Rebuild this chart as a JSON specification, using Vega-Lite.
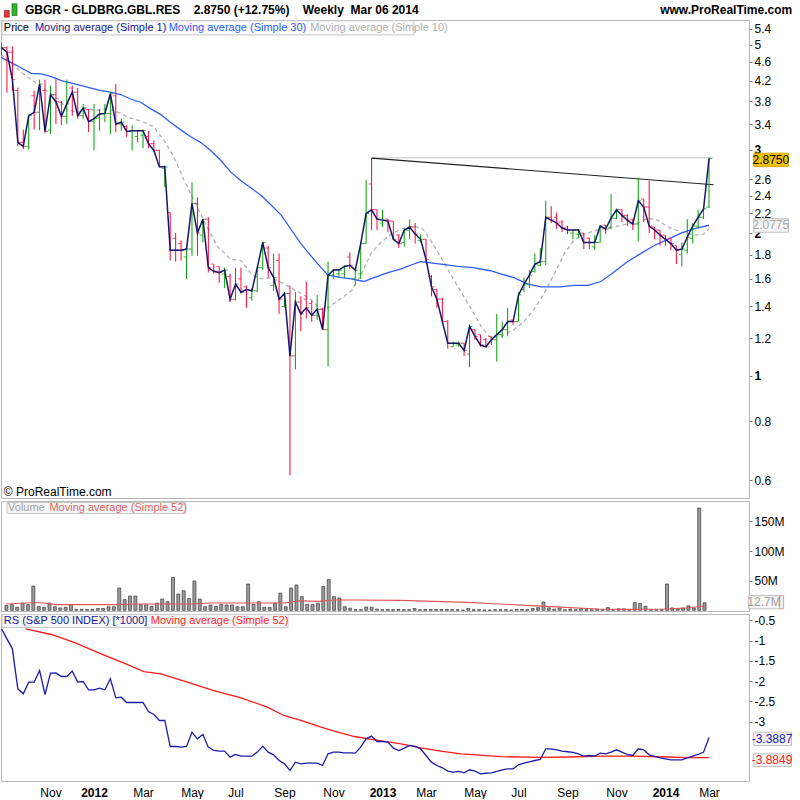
{
"$schema":"https://vega.github.io/schema/vega-lite/v6.json",
"background":"white",
"padding":{"left":0,"top":2,"right":0,"bottom":0},
"bounds":"flush",
"spacing":3,
"config":{"font":"Liberation Sans","view":{"stroke":"#b8b8b8"},"locale":{"number":{"decimal":".","thousands":",","grouping":[3],"currency":["$",""],"minus":"-"}},"axis":{"labelFont":"Liberation Sans","labelFontSize":12,"labelColor":"#000","domain":false,"grid":false,"tickColor":"#777","labelFlush":false,"labelOverlap":false}},
"resolve":{"scale":{"x":"independent","y":"independent"}},
"datasets":{
"bars":[
{"d":"2011-09-05","o":4.9,"h":5.05,"l":4.75,"c":4.93,"v":8,"rs":-0.713},
{"d":"2011-09-12","o":4.93,"h":4.96,"l":3.96,"c":4.82,"v":9.5,"rs":-0.959},
{"d":"2011-09-19","o":4.82,"h":4.96,"l":4.0,"c":4.22,"v":5,"rs":-1.205},
{"d":"2011-09-26","o":4.0,"h":4.06,"l":3.05,"c":3.11,"v":12,"rs":-2.19},
{"d":"2011-10-03","o":3.11,"h":3.31,"l":3.01,"c":3.05,"v":9.5,"rs":-2.314},
{"d":"2011-10-10","o":3.05,"h":3.56,"l":3.0,"c":3.54,"v":41,"rs":-2.026},
{"d":"2011-10-17","o":3.9,"h":4.0,"l":3.31,"c":3.6,"v":6.5,"rs":-2.026},
{"d":"2011-10-24","o":3.6,"h":4.22,"l":3.3,"c":4.13,"v":5,"rs":-1.739},
{"d":"2011-10-31","o":4.0,"h":4.22,"l":3.25,"c":3.28,"v":12,"rs":-2.33},
{"d":"2011-11-07","o":3.3,"h":4.1,"l":3.24,"c":3.92,"v":6,"rs":-1.805},
{"d":"2011-11-14","o":3.92,"h":4.23,"l":3.4,"c":3.79,"v":4,"rs":-1.797},
{"d":"2011-11-21","o":3.78,"h":3.8,"l":3.38,"c":3.53,"v":5,"rs":-1.887},
{"d":"2011-11-28","o":3.53,"h":4.22,"l":3.4,"c":3.75,"v":9.5,"rs":-1.887},
{"d":"2011-12-05","o":4.05,"h":4.1,"l":3.54,"c":3.97,"v":1.5,"rs":-1.755},
{"d":"2011-12-12","o":3.97,"h":4.05,"l":3.49,"c":3.54,"v":1.5,"rs":-2.026},
{"d":"2011-12-19","o":3.54,"h":3.75,"l":3.49,"c":3.67,"v":1.5,"rs":-2.01},
{"d":"2011-12-26","o":3.65,"h":3.66,"l":3.27,"c":3.44,"v":1.5,"rs":-2.215},
{"d":"2012-01-02","o":3.44,"h":3.75,"l":2.99,"c":3.49,"v":3,"rs":-2.215},
{"d":"2012-01-09","o":3.5,"h":3.66,"l":3.29,"c":3.57,"v":3,"rs":-2.174},
{"d":"2012-01-16","o":3.57,"h":3.75,"l":3.43,"c":3.58,"v":6,"rs":-2.215},
{"d":"2012-01-23","o":3.58,"h":3.97,"l":3.24,"c":3.94,"v":6,"rs":-1.944},
{"d":"2012-01-30","o":3.9,"h":4.13,"l":3.27,"c":3.4,"v":37.6,"rs":-2.412},
{"d":"2012-02-06","o":3.4,"h":3.49,"l":3.29,"c":3.43,"v":18,"rs":-2.396},
{"d":"2012-02-13","o":3.36,"h":3.38,"l":3.19,"c":3.28,"v":24,"rs":-2.527},
{"d":"2012-02-20","o":3.28,"h":3.38,"l":2.99,"c":3.29,"v":24,"rs":-2.527},
{"d":"2012-02-27","o":3.2,"h":3.29,"l":3.11,"c":3.29,"v":9.5,"rs":-2.527},
{"d":"2012-03-05","o":3.22,"h":3.31,"l":3.02,"c":3.29,"v":9.5,"rs":-2.527},
{"d":"2012-03-12","o":3.2,"h":3.29,"l":3.02,"c":3.09,"v":6.5,"rs":-2.749},
{"d":"2012-03-19","o":3.09,"h":3.14,"l":2.97,"c":2.99,"v":12,"rs":-2.823},
{"d":"2012-03-26","o":2.99,"h":3.0,"l":2.76,"c":2.76,"v":19,"rs":-2.97},
{"d":"2012-04-02","o":2.74,"h":2.78,"l":2.5,"c":2.76,"v":14.5,"rs":-2.97},
{"d":"2012-04-09","o":2.21,"h":2.21,"l":1.75,"c":1.84,"v":55.6,"rs":-3.611},
{"d":"2012-04-16","o":1.95,"h":2.0,"l":1.74,"c":1.84,"v":27.5,"rs":-3.611},
{"d":"2012-04-23","o":1.9,"h":1.93,"l":1.75,"c":1.84,"v":33,"rs":-3.627},
{"d":"2012-04-30","o":1.78,"h":1.85,"l":1.6,"c":1.85,"v":19.6,"rs":-3.611},
{"d":"2012-05-07","o":1.85,"h":2.56,"l":1.79,"c":2.31,"v":49.5,"rs":-3.258},
{"d":"2012-05-14","o":2.31,"h":2.38,"l":1.79,"c":2.0,"v":19,"rs":-3.422},
{"d":"2012-05-21","o":1.98,"h":2.14,"l":1.91,"c":2.14,"v":6,"rs":-3.315},
{"d":"2012-05-28","o":2.14,"h":2.16,"l":1.65,"c":1.69,"v":9,"rs":-3.627},
{"d":"2012-06-04","o":1.72,"h":1.72,"l":1.64,"c":1.66,"v":6.5,"rs":-3.709},
{"d":"2012-06-11","o":1.7,"h":1.7,"l":1.57,"c":1.65,"v":10,"rs":-3.726},
{"d":"2012-06-18","o":1.64,"h":1.69,"l":1.53,"c":1.67,"v":9,"rs":-3.726},
{"d":"2012-06-25","o":1.62,"h":1.64,"l":1.43,"c":1.45,"v":9,"rs":-3.874},
{"d":"2012-07-02","o":1.45,"h":1.69,"l":1.44,"c":1.56,"v":6,"rs":-3.808},
{"d":"2012-07-09","o":1.6,"h":1.69,"l":1.49,"c":1.5,"v":6,"rs":-3.849},
{"d":"2012-07-16","o":1.54,"h":1.55,"l":1.39,"c":1.52,"v":44.4,"rs":-3.849},
{"d":"2012-07-23","o":1.46,"h":1.53,"l":1.44,"c":1.51,"v":10,"rs":-3.849},
{"d":"2012-07-30","o":1.51,"h":1.7,"l":1.5,"c":1.69,"v":14.5,"rs":-3.75},
{"d":"2012-08-06","o":1.69,"h":1.92,"l":1.67,"c":1.91,"v":5,"rs":-3.603},
{"d":"2012-08-13","o":1.86,"h":1.88,"l":1.61,"c":1.69,"v":5,"rs":-3.75},
{"d":"2012-08-20","o":1.55,"h":1.81,"l":1.51,"c":1.61,"v":12,"rs":-3.816},
{"d":"2012-08-27","o":1.75,"h":1.81,"l":1.35,"c":1.45,"v":29,"rs":-3.956},
{"d":"2012-09-03","o":1.4,"h":1.5,"l":1.39,"c":1.49,"v":6,"rs":-4.038},
{"d":"2012-09-10","o":1.49,"h":1.55,"l":0.615,"c":1.1,"v":37.6,"rs":-4.202},
{"d":"2012-09-17","o":1.1,"h":1.5,"l":1.03,"c":1.43,"v":42.7,"rs":-3.997},
{"d":"2012-09-24","o":1.43,"h":1.47,"l":1.24,"c":1.35,"v":23,"rs":-4.038},
{"d":"2012-10-01","o":1.45,"h":1.58,"l":1.32,"c":1.39,"v":10,"rs":-4.021},
{"d":"2012-10-08","o":1.42,"h":1.44,"l":1.3,"c":1.34,"v":10,"rs":-4.021},
{"d":"2012-10-15","o":1.34,"h":1.48,"l":1.31,"c":1.38,"v":12,"rs":-4.021},
{"d":"2012-10-22","o":1.38,"h":1.39,"l":1.25,"c":1.25,"v":40,"rs":-4.079},
{"d":"2012-10-29","o":1.25,"h":1.74,"l":1.045,"c":1.63,"v":51.7,"rs":-3.791},
{"d":"2012-11-05","o":1.63,"h":1.68,"l":1.6,"c":1.67,"v":23,"rs":-3.75},
{"d":"2012-11-12","o":1.64,"h":1.68,"l":1.61,"c":1.67,"v":20.7,"rs":-3.75},
{"d":"2012-11-19","o":1.64,"h":1.71,"l":1.61,"c":1.7,"v":6,"rs":-3.767},
{"d":"2012-11-26","o":1.78,"h":1.82,"l":1.68,"c":1.71,"v":3.5,"rs":-3.767},
{"d":"2012-12-03","o":1.6,"h":1.68,"l":1.55,"c":1.67,"v":1,"rs":-3.775},
{"d":"2012-12-10","o":1.64,"h":1.91,"l":1.6,"c":1.9,"v":1,"rs":-3.627},
{"d":"2012-12-17","o":1.9,"h":2.59,"l":1.9,"c":2.2,"v":5.5,"rs":-3.422},
{"d":"2012-12-24","o":2.54,"h":2.88,"l":2.03,"c":2.24,"v":5,"rs":-3.356},
{"d":"2012-12-31","o":2.24,"h":2.24,"l":2.03,"c":2.14,"v":2,"rs":-3.488},
{"d":"2013-01-07","o":2.1,"h":2.24,"l":2.06,"c":2.13,"v":1,"rs":-3.488},
{"d":"2013-01-14","o":2.14,"h":2.14,"l":2.01,"c":2.12,"v":1.5,"rs":-3.504},
{"d":"2013-01-21","o":2.12,"h":2.12,"l":1.93,"c":1.94,"v":1,"rs":-3.652},
{"d":"2013-01-28","o":1.98,"h":1.99,"l":1.86,"c":1.9,"v":1.5,"rs":-3.709},
{"d":"2013-02-04","o":1.91,"h":2.03,"l":1.87,"c":2.03,"v":1,"rs":-3.652},
{"d":"2013-02-11","o":2.03,"h":2.14,"l":1.94,"c":2.06,"v":1,"rs":-3.586},
{"d":"2013-02-18","o":2.06,"h":2.1,"l":1.9,"c":1.99,"v":3,"rs":-3.611},
{"d":"2013-02-25","o":1.93,"h":1.99,"l":1.91,"c":1.94,"v":1,"rs":-3.668},
{"d":"2013-03-04","o":1.94,"h":1.94,"l":1.74,"c":1.76,"v":1.5,"rs":-3.833},
{"d":"2013-03-11","o":1.62,"h":1.63,"l":1.47,"c":1.54,"v":1.5,"rs":-3.997},
{"d":"2013-03-18","o":1.52,"h":1.52,"l":1.39,"c":1.45,"v":1.5,"rs":-4.079},
{"d":"2013-03-25","o":1.45,"h":1.46,"l":1.3,"c":1.3,"v":1.5,"rs":-4.136},
{"d":"2013-04-01","o":1.3,"h":1.31,"l":1.14,"c":1.17,"v":1.5,"rs":-4.218},
{"d":"2013-04-08","o":1.15,"h":1.18,"l":1.15,"c":1.17,"v":1,"rs":-4.243},
{"d":"2013-04-15","o":1.16,"h":1.18,"l":1.15,"c":1.17,"v":1,"rs":-4.226},
{"d":"2013-04-22","o":1.17,"h":1.17,"l":1.1,"c":1.13,"v":0.3,"rs":-4.259},
{"d":"2013-04-29","o":1.11,"h":1.28,"l":1.04,"c":1.27,"v":3,"rs":-4.185},
{"d":"2013-05-06","o":1.25,"h":1.25,"l":1.19,"c":1.21,"v":1,"rs":-4.218},
{"d":"2013-05-13","o":1.22,"h":1.22,"l":1.15,"c":1.16,"v":1,"rs":-4.284},
{"d":"2013-05-20","o":1.19,"h":1.2,"l":1.15,"c":1.15,"v":0.3,"rs":-4.27},
{"d":"2013-05-27","o":1.21,"h":1.21,"l":1.16,"c":1.19,"v":0.3,"rs":-4.259},
{"d":"2013-06-03","o":1.19,"h":1.35,"l":1.07,"c":1.22,"v":1,"rs":-4.226},
{"d":"2013-06-10","o":1.22,"h":1.3,"l":1.2,"c":1.25,"v":1,"rs":-4.185},
{"d":"2013-06-17","o":1.25,"h":1.39,"l":1.21,"c":1.3,"v":1,"rs":-4.161},
{"d":"2013-06-24","o":1.31,"h":1.31,"l":1.28,"c":1.3,"v":0.3,"rs":-4.161},
{"d":"2013-07-01","o":1.3,"h":1.5,"l":1.3,"c":1.48,"v":1.5,"rs":-4.062},
{"d":"2013-07-08","o":1.52,"h":1.61,"l":1.5,"c":1.56,"v":1.5,"rs":-4.021},
{"d":"2013-07-15","o":1.56,"h":1.67,"l":1.53,"c":1.63,"v":1,"rs":-3.99},
{"d":"2013-07-22","o":1.66,"h":1.81,"l":1.65,"c":1.72,"v":3,"rs":-3.956},
{"d":"2013-07-29","o":1.71,"h":1.86,"l":1.7,"c":1.74,"v":4.5,"rs":-3.931},
{"d":"2013-08-05","o":1.74,"h":2.34,"l":1.71,"c":2.16,"v":14,"rs":-3.668},
{"d":"2013-08-12","o":2.16,"h":2.28,"l":2.1,"c":2.13,"v":4,"rs":-3.668},
{"d":"2013-08-19","o":2.16,"h":2.21,"l":2.04,"c":2.1,"v":2,"rs":-3.693},
{"d":"2013-08-26","o":2.11,"h":2.13,"l":2.01,"c":2.05,"v":4,"rs":-3.726},
{"d":"2013-09-02","o":2.06,"h":2.07,"l":1.99,"c":2.03,"v":1,"rs":-3.74},
{"d":"2013-09-09","o":2.0,"h":2.04,"l":1.94,"c":2.03,"v":2,"rs":-3.758},
{"d":"2013-09-16","o":1.99,"h":2.04,"l":1.95,"c":2.03,"v":1,"rs":-3.791},
{"d":"2013-09-23","o":2.0,"h":2.0,"l":1.85,"c":1.91,"v":3,"rs":-3.849},
{"d":"2013-09-30","o":1.95,"h":1.96,"l":1.85,"c":1.91,"v":1,"rs":-3.833},
{"d":"2013-10-07","o":1.87,"h":1.98,"l":1.84,"c":1.91,"v":1,"rs":-3.849},
{"d":"2013-10-14","o":1.91,"h":2.08,"l":1.91,"c":2.07,"v":2,"rs":-3.775},
{"d":"2013-10-21","o":2.08,"h":2.08,"l":1.99,"c":2.04,"v":1,"rs":-3.791},
{"d":"2013-10-28","o":2.05,"h":2.42,"l":2.04,"c":2.15,"v":4.5,"rs":-3.75},
{"d":"2013-11-04","o":2.15,"h":2.25,"l":2.14,"c":2.24,"v":1,"rs":-3.693},
{"d":"2013-11-11","o":2.24,"h":2.25,"l":2.11,"c":2.18,"v":2.5,"rs":-3.75},
{"d":"2013-11-18","o":2.18,"h":2.19,"l":2.07,"c":2.13,"v":2.5,"rs":-3.808},
{"d":"2013-11-25","o":2.14,"h":2.14,"l":2.03,"c":2.09,"v":1,"rs":-3.833},
{"d":"2013-12-02","o":2.09,"h":2.62,"l":1.92,"c":2.34,"v":13,"rs":-3.668},
{"d":"2013-12-09","o":2.36,"h":2.36,"l":2.11,"c":2.27,"v":11.5,"rs":-3.693},
{"d":"2013-12-16","o":2.27,"h":2.58,"l":2.0,"c":2.07,"v":7,"rs":-3.816},
{"d":"2013-12-23","o":2.06,"h":2.06,"l":1.94,"c":2.03,"v":1,"rs":-3.857},
{"d":"2013-12-30","o":2.03,"h":2.03,"l":1.88,"c":1.98,"v":1,"rs":-3.89},
{"d":"2014-01-06","o":1.98,"h":1.98,"l":1.88,"c":1.94,"v":1,"rs":-3.915},
{"d":"2014-01-13","o":1.95,"h":1.95,"l":1.84,"c":1.9,"v":44.4,"rs":-3.939},
{"d":"2014-01-20","o":1.88,"h":1.88,"l":1.72,"c":1.84,"v":4,"rs":-3.939},
{"d":"2014-01-27","o":1.8,"h":1.91,"l":1.7,"c":1.85,"v":2.5,"rs":-3.939},
{"d":"2014-02-03","o":1.84,"h":2.14,"l":1.81,"c":1.96,"v":4,"rs":-3.89},
{"d":"2014-02-10","o":1.95,"h":2.1,"l":1.9,"c":2.07,"v":7.5,"rs":-3.849},
{"d":"2014-02-17","o":2.07,"h":2.24,"l":2.05,"c":2.16,"v":4,"rs":-3.808},
{"d":"2014-02-24","o":2.16,"h":2.27,"l":2.14,"c":2.25,"v":172.8,"rs":-3.75},
{"d":"2014-03-03","o":2.27,"h":2.89,"l":2.26,"c":2.875,"v":12.7,"rs":-3.389}
],
"ma30":[
{"d":"2011-09-04","p":4.71},{"d":"2011-09-17","p":4.59},{"d":"2011-09-30","p":4.47},{"d":"2011-10-13","p":4.35},{"d":"2011-10-26","p":4.34},{"d":"2011-11-08","p":4.28},{"d":"2011-11-21","p":4.2},{"d":"2011-12-04","p":4.15},{"d":"2011-12-17","p":4.1},{"d":"2011-12-29","p":4.05},{"d":"2012-01-11","p":4.0},{"d":"2012-01-23","p":3.97},{"d":"2012-02-06","p":3.92},{"d":"2012-02-18","p":3.84},{"d":"2012-03-02","p":3.78},{"d":"2012-03-15","p":3.66},{"d":"2012-03-28","p":3.56},{"d":"2012-04-10","p":3.42},{"d":"2012-04-23","p":3.3},{"d":"2012-05-05","p":3.2},{"d":"2012-05-18","p":3.11},{"d":"2012-05-31","p":2.99},{"d":"2012-06-13","p":2.85},{"d":"2012-06-26","p":2.69},{"d":"2012-07-09","p":2.58},{"d":"2012-07-22","p":2.49},{"d":"2012-08-04","p":2.4},{"d":"2012-08-17","p":2.29},{"d":"2012-08-30","p":2.18},{"d":"2012-09-11","p":2.04},{"d":"2012-09-24","p":1.9},{"d":"2012-10-07","p":1.79},{"d":"2012-10-20","p":1.69},{"d":"2012-10-29","p":1.63},{"d":"2012-11-15","p":1.61},{"d":"2012-11-28","p":1.6},{"d":"2012-12-14","p":1.58},{"d":"2012-12-27","p":1.61},{"d":"2013-01-14","p":1.65},{"d":"2013-01-31","p":1.68},{"d":"2013-02-12","p":1.71},{"d":"2013-02-25","p":1.74},{"d":"2013-03-10","p":1.73},{"d":"2013-03-23","p":1.72},{"d":"2013-04-14","p":1.7},{"d":"2013-05-04","p":1.69},{"d":"2013-05-26","p":1.665},{"d":"2013-06-08","p":1.64},{"d":"2013-06-25","p":1.61},{"d":"2013-07-13","p":1.56},{"d":"2013-07-30","p":1.54},{"d":"2013-08-24","p":1.54},{"d":"2013-09-10","p":1.55},{"d":"2013-09-28","p":1.55},{"d":"2013-10-15","p":1.58},{"d":"2013-10-31","p":1.65},{"d":"2013-11-18","p":1.74},{"d":"2013-12-05","p":1.81},{"d":"2013-12-22","p":1.88},{"d":"2014-01-09","p":1.94},{"d":"2014-01-26","p":2.0},{"d":"2014-02-11","p":2.04},{"d":"2014-03-03","p":2.0775}
],
"ma10":[
{"d":"2011-09-04","p":4.78},{"d":"2011-09-30","p":4.38},{"d":"2011-10-30","p":4.03},{"d":"2011-11-17","p":3.84},{"d":"2011-11-30","p":3.63},{"d":"2011-12-13","p":3.6},{"d":"2011-12-21","p":3.69},{"d":"2012-01-03","p":3.63},{"d":"2012-01-20","p":3.66},{"d":"2012-02-02","p":3.6},{"d":"2012-02-14","p":3.52},{"d":"2012-03-06","p":3.43},{"d":"2012-03-19","p":3.35},{"d":"2012-04-01","p":3.14},{"d":"2012-04-14","p":2.89},{"d":"2012-04-27","p":2.58},{"d":"2012-05-10","p":2.34},{"d":"2012-05-22","p":2.13},{"d":"2012-06-09","p":1.87},{"d":"2012-06-26","p":1.76},{"d":"2012-07-09","p":1.75},{"d":"2012-07-22","p":1.64},{"d":"2012-08-04","p":1.6},{"d":"2012-08-17","p":1.61},{"d":"2012-09-03","p":1.56},{"d":"2012-09-21","p":1.5},{"d":"2012-10-04","p":1.46},{"d":"2012-10-20","p":1.38},{"d":"2012-10-29","p":1.39},{"d":"2012-11-11","p":1.44},{"d":"2012-11-28","p":1.51},{"d":"2012-12-11","p":1.64},{"d":"2012-12-23","p":1.81},{"d":"2013-01-05","p":1.91},{"d":"2013-01-18","p":1.99},{"d":"2013-01-31","p":2.04},{"d":"2013-02-16","p":2.07},{"d":"2013-02-28","p":2.04},{"d":"2013-03-10","p":1.93},{"d":"2013-03-23","p":1.78},{"d":"2013-04-09","p":1.59},{"d":"2013-04-27","p":1.42},{"d":"2013-05-14","p":1.27},{"d":"2013-05-26","p":1.2},{"d":"2013-06-08","p":1.21},{"d":"2013-06-25","p":1.25},{"d":"2013-07-08","p":1.3},{"d":"2013-07-21","p":1.38},{"d":"2013-08-03","p":1.49},{"d":"2013-08-16","p":1.64},{"d":"2013-08-29","p":1.81},{"d":"2013-09-10","p":1.93},{"d":"2013-09-23","p":1.99},{"d":"2013-10-11","p":2.03},{"d":"2013-10-31","p":2.06},{"d":"2013-11-18","p":2.09},{"d":"2013-12-01","p":2.1},{"d":"2013-12-14","p":2.15},{"d":"2013-12-27","p":2.13},{"d":"2014-01-09","p":2.06},{"d":"2014-01-26","p":2.01},{"d":"2014-02-11","p":1.98},{"d":"2014-02-24","p":1.99},{"d":"2014-03-03","p":2.04}
],
"trend":[{"d":"2012-12-24","p":2.88},{"d":"2014-03-09","p":2.53}],
"hline":[{"d":"2012-12-24","p":2.885},{"d":"2014-03-09","p":2.885}],
"vma":[
{"d":"2011-09-04","v":10.6},{"d":"2011-10-09","v":12.8},{"d":"2011-10-22","v":12.8},{"d":"2011-11-08","v":9.5},{"d":"2012-01-24","v":9.5},{"d":"2012-02-23","v":10.6},{"d":"2012-05-02","v":10.6},{"d":"2012-05-28","v":12.3},{"d":"2012-09-02","v":12.3},{"d":"2012-09-21","v":16.2},{"d":"2012-10-15","v":15.1},{"d":"2012-11-05","v":17.4},{"d":"2012-12-01","v":17.4},{"d":"2013-01-31","v":16.8},{"d":"2013-03-14","v":15.1},{"d":"2013-04-27","v":13.4},{"d":"2013-06-08","v":10.6},{"d":"2013-07-21","v":7.8},{"d":"2013-09-03","v":5.0},{"d":"2013-10-15","v":2.2},{"d":"2013-11-26","v":1.6},{"d":"2014-01-09","v":2.2},{"d":"2014-02-07","v":3.9},{"d":"2014-03-03","v":7.2}
],
"rsma":[
{"d":"2011-10-06","v":-0.713},{"d":"2011-11-08","v":-0.852},{"d":"2011-12-09","v":-1.057},{"d":"2012-01-11","v":-1.328},{"d":"2012-02-12","v":-1.575},{"d":"2012-03-06","v":-1.764},{"d":"2012-03-28","v":-1.821},{"d":"2012-05-01","v":-2.026},{"d":"2012-06-04","v":-2.232},{"d":"2012-07-09","v":-2.412},{"d":"2012-08-12","v":-2.642},{"d":"2012-09-02","v":-2.847},{"d":"2012-09-24","v":-2.97},{"d":"2012-10-20","v":-3.135},{"d":"2012-11-06","v":-3.233},{"d":"2012-12-02","v":-3.365},{"d":"2012-12-28","v":-3.447},{"d":"2013-01-31","v":-3.545},{"d":"2013-02-25","v":-3.644},{"d":"2013-03-23","v":-3.726},{"d":"2013-04-18","v":-3.791},{"d":"2013-05-17","v":-3.83},{"d":"2013-06-08","v":-3.86},{"d":"2013-07-30","v":-3.88},{"d":"2013-09-03","v":-3.87},{"d":"2013-10-15","v":-3.85},{"d":"2013-11-26","v":-3.85},{"d":"2014-01-09","v":-3.87},{"d":"2014-02-03","v":-3.885},{"d":"2014-03-03","v":-3.885}
]
},
"vconcat":[
{
"width":748,"height":478,
"layer":[
{"data":{"name":"ma10"},"mark":{"type":"line","color":"#b0b0b0","strokeWidth":1.3,"strokeDash":[4,3],"clip":true},
 "encoding":{"x":{"field":"d","type":"temporal","scale":{"type":"utc","domain":[{"year":2011,"month":9,"date":4,"hours":8,"minutes":34,"utc":true},{"year":2014,"month":4,"date":23,"hours":10,"utc":true}]},"axis":null},
  "y":{"field":"p","type":"quantitative","title":null,"scale":{"type":"log","domain":[0.551,5.64],"nice":false,"zero":false},
  "axis":{"orient":"right","values":[0.6,0.8,1,1.2,1.4,1.6,1.8,2,2.2,2.4,2.6,3,3.4,3.8,4.2,4.6,5,5.4],"tickCount":30,"format":"~g","tickSize":3,"labelPadding":2,"labelOverlap":false,"zindex":0,"labelFontWeight":{"condition":{"test":"datum.value==1 || datum.value==2 || datum.value==3","value":"bold"},"value":"normal"}}}}},
{"data":{"name":"ma30"},"mark":{"type":"line","color":"#2f5cff","strokeWidth":1.3,"clip":true},
 "encoding":{"x":{"field":"d","type":"temporal","axis":null},"y":{"field":"p","type":"quantitative","title":null}}},
{"data":{"name":"hline"},"mark":{"type":"line","color":"#c8c8c8","strokeWidth":1.2},
 "encoding":{"x":{"field":"d","type":"temporal","axis":null},"y":{"field":"p","type":"quantitative","title":null}}},
{"data":{"name":"trend"},"mark":{"type":"line","color":"#222222","strokeWidth":1.2},
 "encoding":{"x":{"field":"d","type":"temporal","axis":null},"y":{"field":"p","type":"quantitative","title":null}}},
{"data":{"name":"bars"},"mark":{"type":"rule","strokeWidth":1,"clip":true},
 "encoding":{"x":{"field":"d","type":"temporal","axis":null},"y":{"field":"l","type":"quantitative","title":null},"y2":{"field":"h"},
  "color":{"condition":{"test":"datum.c >= datum.o","value":"#00a000"},"value":"#ff0038"}}},
{"data":{"name":"bars"},"mark":{"type":"tick","orient":"horizontal","size":3,"thickness":1,"xOffset":-1.5,"clip":true},
 "encoding":{"x":{"field":"d","type":"temporal","axis":null},"y":{"field":"o","type":"quantitative","title":null},
  "color":{"condition":{"test":"datum.c >= datum.o","value":"#00a000"},"value":"#ff0038"}}},
{"data":{"name":"bars"},"mark":{"type":"tick","orient":"horizontal","size":3,"thickness":1,"xOffset":1.5,"clip":true},
 "encoding":{"x":{"field":"d","type":"temporal","axis":null},"y":{"field":"c","type":"quantitative","title":null},
  "color":{"condition":{"test":"datum.c >= datum.o","value":"#00a000"},"value":"#ff0038"}}},
{"data":{"name":"bars"},"mark":{"type":"line","color":"#161668","strokeWidth":1.5,"clip":true},
 "encoding":{"x":{"field":"d","type":"temporal","axis":null},"y":{"field":"c","type":"quantitative","title":null}}},
{"data":{"values":[{}]},"mark":{"type":"rect","fill":"#fafafa","stroke":"#c8c8c8","strokeWidth":1},
 "encoding":{"x":{"datum":1315234800000,"type":"temporal","axis":null},"x2":{"datum":1361016000000},"y":{"datum":5.62,"type":"quantitative","title":null},"y2":{"datum":5.245}}},
{"data":{"values":[{}]},"mark":{"type":"text","text":"Price","align":"left","baseline":"middle","fontSize":11,"color":"#000"},
 "encoding":{"x":{"datum":1315440000000,"type":"temporal","axis":null},"y":{"datum":5.43,"type":"quantitative","title":null}}},
{"data":{"values":[{}]},"mark":{"type":"text","text":"Moving average (Simple 1)","align":"left","baseline":"middle","fontSize":11,"color":"#1a1a8c"},
 "encoding":{"x":{"datum":1318896000000,"type":"temporal","axis":null},"y":{"datum":5.43,"type":"quantitative","title":null}}},
{"data":{"values":[{}]},"mark":{"type":"text","text":"Moving average (Simple 30)","align":"left","baseline":"middle","fontSize":11,"color":"#2f5cff"},
 "encoding":{"x":{"datum":1333756800000,"type":"temporal","axis":null},"y":{"datum":5.43,"type":"quantitative","title":null}}},
{"data":{"values":[{}]},"mark":{"type":"text","text":"Moving average (Simple 10)","align":"left","baseline":"middle","fontSize":11,"color":"#b0b0b0"},
 "encoding":{"x":{"datum":1349481600000,"type":"temporal","axis":null},"y":{"datum":5.43,"type":"quantitative","title":null}}},
{"data":{"values":[{}]},"mark":{"type":"text","text":"© ProRealTime.com","align":"left","baseline":"middle","fontSize":12,"color":"#000"},
 "encoding":{"x":{"datum":1315440000000,"type":"temporal","axis":null},"y":{"datum":0.567,"type":"quantitative","title":null}}},
{"data":{"values":[{}]},"mark":{"type":"rect","fill":"#e23a3a","stroke":"#8a1010","strokeWidth":0.6},
 "encoding":{"x":{"datum":1315490400000,"type":"temporal","axis":null},"x2":{"datum":1316044800000},"y":{"datum":5.907,"type":"quantitative","title":null},"y2":{"datum":5.718}}},
{"data":{"values":[{}]},"mark":{"type":"rect","fill":"#2fb52f","stroke":"#106010","strokeWidth":0.6},
 "encoding":{"x":{"datum":1316347200000,"type":"temporal","axis":null},"x2":{"datum":1316901600000},"y":{"datum":6.104,"type":"quantitative","title":null},"y2":{"datum":5.765}}},
{"data":{"values":[{}]},"mark":{"type":"text","text":"GBGR - GLDBRG.GBL.RES\u00a0\u00a0\u00a0\u00a02.8750 (+12.75%)\u00a0\u00a0\u00a0\u00a0Weekly\u00a0\u00a0Mar 06 2014","align":"left","baseline":"middle","fontSize":12,"fontWeight":"bold","color":"#000"},
 "encoding":{"x":{"datum":1317790800000,"type":"temporal","axis":null},"y":{"datum":5.92,"type":"quantitative","title":null}}},
{"data":{"values":[{}]},"mark":{"type":"text","text":"www.ProRealTime.com","align":"right","baseline":"middle","fontSize":12,"fontWeight":"bold","color":"#000"},
 "encoding":{"x":{"datum":1403049600000,"type":"temporal","axis":null},"y":{"datum":5.92,"type":"quantitative","title":null}}},
{"data":{"values":[{}]},"mark":{"type":"rect","fill":"#f2c200","stroke":"#d9a900","strokeWidth":1},
 "encoding":{"x":{"datum":1398772800000,"type":"temporal","axis":null},"x2":{"datum":1402617600000},"y":{"datum":2.95,"type":"quantitative","title":null},"y2":{"datum":2.765}}},
{"data":{"values":[{}]},"mark":{"type":"text","text":"2.8750","align":"center","baseline":"middle","fontSize":12,"color":"#000"},
 "encoding":{"x":{"datum":1400673600000,"type":"temporal","axis":null},"y":{"datum":2.856,"type":"quantitative","title":null}}},
{"data":{"values":[{}]},"mark":{"type":"rect","fill":"#f4f4f4","stroke":"#c0c0c0","strokeWidth":1},
 "encoding":{"x":{"datum":1398772800000,"type":"temporal","axis":null},"x2":{"datum":1402617600000},"y":{"datum":2.144,"type":"quantitative","title":null},"y2":{"datum":2.008}}},
{"data":{"values":[{}]},"mark":{"type":"text","text":"2.0775","align":"center","baseline":"middle","fontSize":12,"color":"#a8a8a8"},
 "encoding":{"x":{"datum":1400673600000,"type":"temporal","axis":null},"y":{"datum":2.075,"type":"quantitative","title":null}}}
]
},
{
"width":748,"height":110,
"layer":[
{"data":{"name":"bars"},"mark":{"type":"bar","width":3,"fill":"#9c9c9c","stroke":"#3a3a3a","strokeWidth":0.7,"clip":true},
 "encoding":{"x":{"field":"d","type":"temporal","scale":{"type":"utc","domain":[{"year":2011,"month":9,"date":4,"hours":8,"minutes":34,"utc":true},{"year":2014,"month":4,"date":23,"hours":10,"utc":true}]},"axis":null},
  "y":{"field":"v","type":"quantitative","title":null,"scale":{"domain":[-1.2,184.6],"nice":false,"zero":false},
  "axis":{"orient":"right","values":[50,100,150],"tickCount":10,"labelExpr":"datum.value + 'M'","tickSize":3,"labelPadding":2,"labelOverlap":false}},"y2":{"datum":0}}},
{"data":{"name":"vma"},"mark":{"type":"line","color":"#e05555","strokeWidth":1.1,"clip":true},
 "encoding":{"x":{"field":"d","type":"temporal","axis":null},"y":{"field":"v","type":"quantitative","title":null}}},
{"data":{"values":[{}]},"mark":{"type":"rect","fill":"#f6f6f6","stroke":"#c8c8c8","strokeWidth":1},
 "encoding":{"x":{"datum":1315234800000,"type":"temporal","axis":null},"x2":{"datum":1335348000000},"y":{"datum":182,"type":"quantitative","title":null},"y2":{"datum":163.5}}},
{"data":{"values":[{}]},"mark":{"type":"text","text":"Volume","align":"left","baseline":"middle","fontSize":11,"color":"#a0a0a0"},
 "encoding":{"x":{"datum":1315353600000,"type":"temporal","axis":null},"y":{"datum":172.8,"type":"quantitative","title":null}}},
{"data":{"values":[{}]},"mark":{"type":"text","text":"Moving average (Simple 52)","align":"left","baseline":"middle","fontSize":11,"color":"#e06666"},
 "encoding":{"x":{"datum":1320019200000,"type":"temporal","axis":null},"y":{"datum":172.8,"type":"quantitative","title":null}}},
{"data":{"values":[{}]},"mark":{"type":"rect","fill":"#f4f4f4","stroke":"#c0c0c0","strokeWidth":1},
 "encoding":{"x":{"datum":1398772800000,"type":"temporal","axis":null},"x2":{"datum":1402272000000},"y":{"datum":25,"type":"quantitative","title":null},"y2":{"datum":2.5}}},
{"data":{"values":[{}]},"mark":{"type":"rect","fill":"#f4f4f4","stroke":"#ff9090","strokeWidth":1},
 "encoding":{"x":{"datum":1402272000000,"type":"temporal","axis":null},"x2":{"datum":1402704000000},"y":{"datum":25,"type":"quantitative","title":null},"y2":{"datum":2.5}}},
{"data":{"values":[{}]},"mark":{"type":"text","text":"12.7M","align":"center","baseline":"middle","fontSize":12,"color":"#a0a0a0"},
 "encoding":{"x":{"datum":1400500800000,"type":"temporal","axis":null},"y":{"datum":13.7,"type":"quantitative","title":null}}}
]
},
{
"width":748,"height":167,
"layer":[
{"data":{"name":"rsma"},"mark":{"type":"line","color":"#ff1a1a","strokeWidth":1.3,"clip":true},
 "encoding":{"x":{"field":"d","type":"temporal","title":null,"scale":{"type":"utc","domain":[{"year":2011,"month":9,"date":4,"hours":8,"minutes":34,"utc":true},{"year":2014,"month":4,"date":23,"hours":10,"utc":true}]},
 "axis":{"values":[1320624000000,1325462400000,1330905600000,1336348800000,1341187200000,1346630400000,1352073600000,1357516800000,1362355200000,1367798400000,1372636800000,1378080000000,1383523200000,1388966400000,1393804800000],
 "tickCount":40,
 "labelExpr":"utcmonth(datum.value)==0 ? utcFormat(datum.value,'%Y') : utcFormat(datum.value,'%b')",
 "labelFontWeight":{"condition":{"test":"utcmonth(datum.value)==0","value":"bold"},"value":"normal"},
 "tickSize":0,"labelPadding":6,"labelFontSize":12,"labelOverlap":false}},
  "y":{"field":"v","type":"quantitative","title":null,"scale":{"domain":[-4.461,-0.347],"nice":false,"zero":false},
  "axis":{"orient":"right","values":[-3,-2.5,-2,-1.5,-1,-0.5],"tickCount":12,"format":"~g","tickSize":3,"labelPadding":2,"labelOverlap":false,"labelBound":false}}}},
{"data":{"name":"bars"},"mark":{"type":"line","color":"#1c1ca8","strokeWidth":1.3,"clip":true},
 "encoding":{"x":{"field":"d","type":"temporal","title":null},"y":{"field":"rs","type":"quantitative","title":null}}},
{"data":{"values":[{}]},"mark":{"type":"rect","fill":"#f6f6f6","stroke":"#c8c8c8","strokeWidth":1},
 "encoding":{"x":{"datum":1315234800000,"type":"temporal","title":null},"x2":{"datum":1347019200000},"y":{"datum":-0.36,"type":"quantitative","title":null},"y2":{"datum":-0.68}}},
{"data":{"values":[{}]},"mark":{"type":"text","text":"RS (S&P 500 INDEX) [*1000]","align":"left","baseline":"middle","fontSize":11,"color":"#1a1a8c"},
 "encoding":{"x":{"datum":1315440000000,"type":"temporal","title":null},"y":{"datum":-0.52,"type":"quantitative","title":null}}},
{"data":{"values":[{}]},"mark":{"type":"text","text":"Moving average (Simple 52)","align":"left","baseline":"middle","fontSize":11,"color":"#ff2a2a"},
 "encoding":{"x":{"datum":1331769600000,"type":"temporal","title":null},"y":{"datum":-0.52,"type":"quantitative","title":null}}},
{"data":{"values":[{}]},"mark":{"type":"rect","fill":"#f4f4f4","stroke":"#c0c0c0","strokeWidth":1},
 "encoding":{"x":{"datum":1398772800000,"type":"temporal","title":null},"x2":{"datum":1402963200000},"y":{"datum":-3.259,"type":"quantitative","title":null},"y2":{"datum":-3.586}}},
{"data":{"values":[{}]},"mark":{"type":"text","text":"-3.3887","align":"center","baseline":"middle","fontSize":12,"color":"#2020b0"},
 "encoding":{"x":{"datum":1400803200000,"type":"temporal","title":null},"y":{"datum":-3.42,"type":"quantitative","title":null}}},
{"data":{"values":[{}]},"mark":{"type":"rect","fill":"#f4f4f4","stroke":"#c0c0c0","strokeWidth":1},
 "encoding":{"x":{"datum":1398772800000,"type":"temporal","title":null},"x2":{"datum":1402963200000},"y":{"datum":-3.791,"type":"quantitative","title":null},"y2":{"datum":-4.103}}},
{"data":{"values":[{}]},"mark":{"type":"text","text":"-3.8849","align":"center","baseline":"middle","fontSize":12,"color":"#ff2020"},
 "encoding":{"x":{"datum":1400803200000,"type":"temporal","title":null},"y":{"datum":-3.947,"type":"quantitative","title":null}}}
]
}
]
}
